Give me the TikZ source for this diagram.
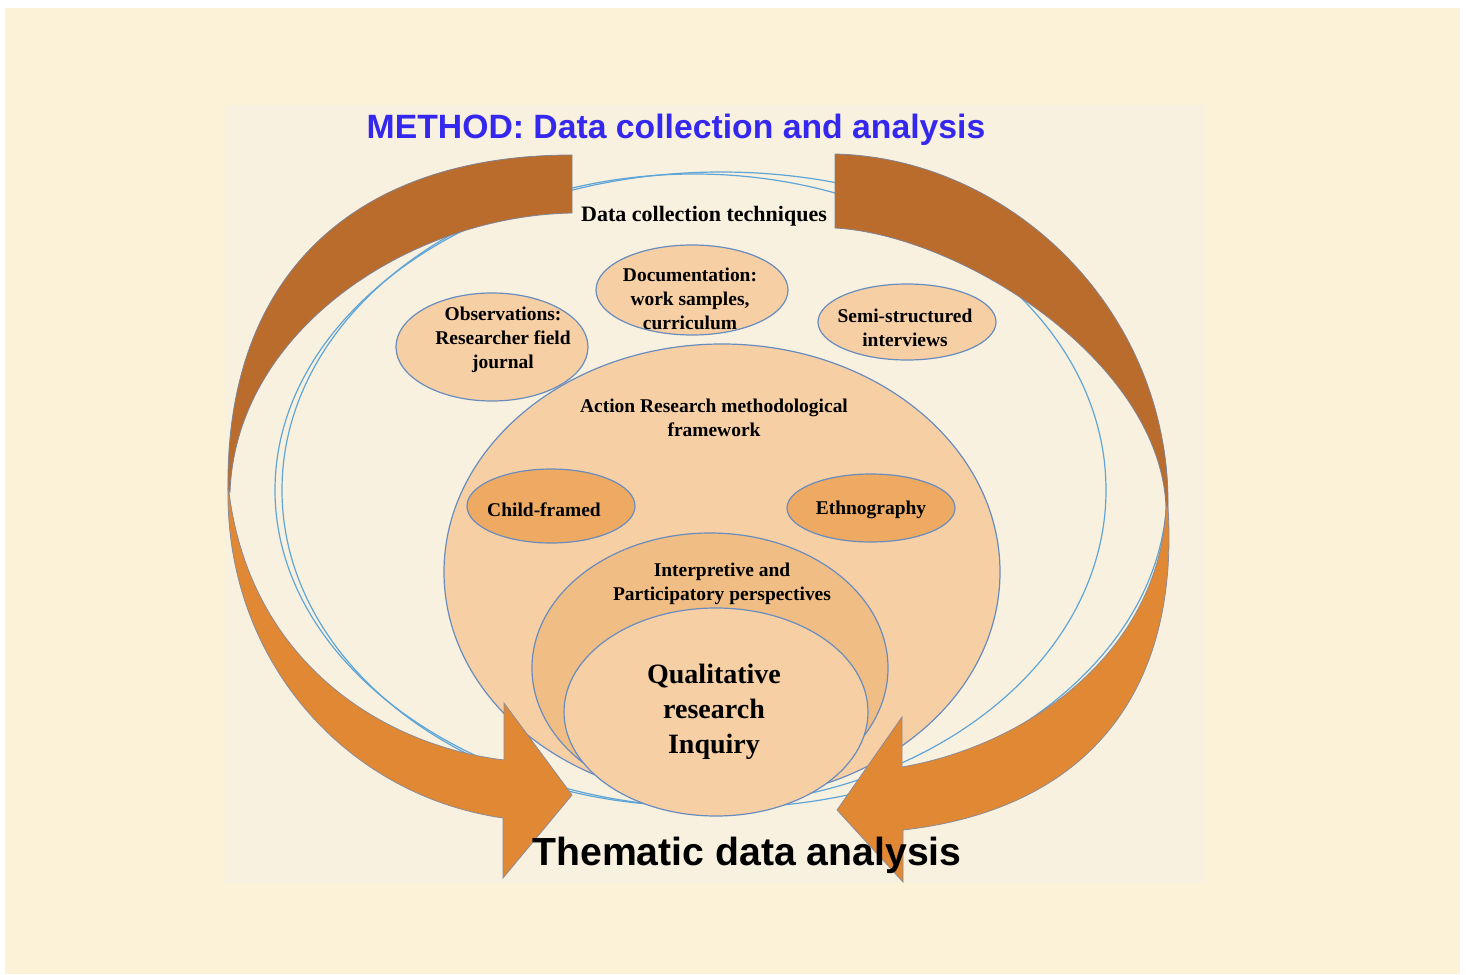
\documentclass[tikz,border=0pt]{standalone}
\usepackage{fontspec}
\setmainfont{Liberation Serif}
\newfontfamily\headfont{Liberation Sans}

\definecolor{bgcream}{RGB}{251,242,216}
\definecolor{panelcream}{RGB}{249,241,223}
\definecolor{ringblue}{RGB}{95,165,215}
\definecolor{rimblue}{RGB}{105,140,190}
\definecolor{peach}{RGB}{246,207,165}
\definecolor{midorange}{RGB}{240,190,132}
\definecolor{deeporange}{RGB}{238,170,98}
\definecolor{bandbrown}{RGB}{186,108,45}
\definecolor{arroworange}{RGB}{225,136,52}
\definecolor{titleblue}{RGB}{52,40,238}

\begin{document}
\begin{tikzpicture}[x=0.75pt,y=0.75pt,yscale=-1,xscale=1,
  ring/.style={draw=ringblue, line width=0.9pt},
  bubble/.style={draw=rimblue, line width=0.9pt},
  band/.style={draw=rimblue!70!bandbrown, line width=0.6pt, fill=bandbrown},
  sweep/.style={draw=rimblue!70!arroworange, line width=0.6pt, fill=arroworange},
  lbl/.style={align=center, inner sep=0pt, font=\bfseries\fontsize{14.6}{18}\selectfont},
  biglbl/.style={align=center, inner sep=0pt, font=\bfseries\fontsize{21}{26.3}\selectfont}]
\useasboundingbox (0,0) rectangle (1466,974);

%Background
\fill [white] (0,0) rectangle (1466,974);
\fill [bgcream] (5,8) rectangle (1460,974);
\fill [panelcream] (225,105) rectangle (1205,883);

%Shape: Ellipse [outer ring]
\draw [ring] (721,490) circle [x radius=446, y radius=318];
%Shape: Ellipse [inner ring]
\draw [ring] (694,490) circle [x radius=412, y radius=316];

%Shape: Ellipse [action research]
\draw [bubble, fill=peach] (722,572) circle [x radius=278, y radius=228];
%Shape: Ellipse [interpretive]
\draw [bubble, fill=midorange] (710,668) circle [x radius=178, y radius=135];
%Shape: Ellipse [qualitative]
\draw [bubble, fill=peach] (716,712) circle [x radius=152, y radius=104];

%Shape: Ellipse [observations]
\draw [bubble, fill=peach] (492,347) circle [x radius=96, y radius=54];
%Shape: Ellipse [documentation]
\draw [bubble, fill=peach] (692,290) circle [x radius=96, y radius=45];
%Shape: Ellipse [interviews]
\draw [bubble, fill=peach] (907,322) circle [x radius=89, y radius=38];
%Shape: Ellipse [child-framed]
\draw [bubble, fill=deeporange] (551,506) circle [x radius=84, y radius=37];
%Shape: Ellipse [ethnography]
\draw [bubble, fill=deeporange] (871,508) circle [x radius=84, y radius=34];

%Shape: Band [top left]
\draw [band] (572,155) .. controls (360,155) and (225,270) .. (228,490)
  -- (230,492) .. controls (236,330) and (410,216) .. (572,213) -- cycle ;
%Shape: Band [top right]
\draw [band] (835,154) .. controls (1010,158) and (1170,310) .. (1168,507)
  -- (1166,507) .. controls (1160,360) and (960,235) .. (835,228) -- cycle ;

%Shape: Arrow [bottom left]
\draw [sweep] (228,490) .. controls (226,660) and (345,795) .. (503,818)
  -- (503,878) -- (572,795) -- (504,703) -- (504,760)
  .. controls (380,745) and (250,660) .. (229,492) -- cycle ;
%Shape: Arrow [bottom right]
\draw [sweep] (1168,507) .. controls (1180,700) and (1080,810) .. (903,830)
  -- (903,882) -- (837,810) -- (902,717) -- (902,767)
  .. controls (1030,745) and (1160,650) .. (1166,507) -- cycle ;

% Text Node
\draw (676,130) node (title) [inner sep=0pt, text=titleblue, font=\headfont\bfseries\fontsize{25.3}{30}\selectfont] {METHOD: Data collection and analysis};
% Text Node
\draw (704,216) node (techniques) [lbl, font=\bfseries\fontsize{16.5}{20}\selectfont] {Data collection techniques};
% Text Node
\draw (690,299) node (docs) [lbl] {Documentation:\\work samples,\\curriculum};
% Text Node
\draw (503,340) node (obs) [lbl] {Observations:\\Researcher field\\journal};
% Text Node
\draw (905,328) node (interviews) [lbl] {Semi-structured\\interviews};
% Text Node
\draw (714,418) node (actionres) [lbl] {Action Research methodological\\framework};
% Text Node
\draw (544,510) node (childfr) [lbl] {Child-framed};
% Text Node
\draw (871,510) node (ethno) [lbl] {Ethnography};
% Text Node
\draw (722,584) node (interp) [lbl] {Interpretive and\\Participatory perspectives};
% Text Node
\draw (714,712) node (qual) [biglbl] {Qualitative\\research\\Inquiry};
% Text Node
\draw (747,855) node (thematic) [inner sep=0pt, font=\headfont\bfseries\fontsize{29.4}{34}\selectfont] {Thematic data analysis};

\end{tikzpicture}
\end{document}
